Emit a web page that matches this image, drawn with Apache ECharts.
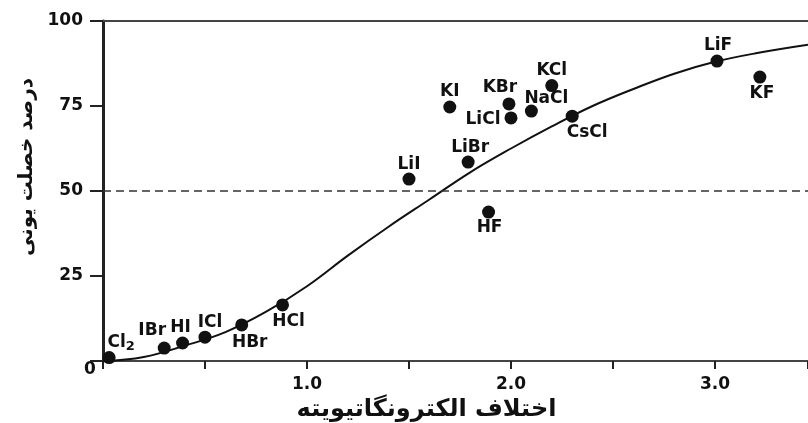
<!DOCTYPE html>
<html>
<head>
<meta charset="utf-8">
<script src="https://cdn.jsdelivr.net/npm/echarts@6/dist/echarts.min.js"></script>
<style>html,body{margin:0;padding:0;background:#fff}#c{width:808px;height:423px}</style>
</head>
<body>
<div id="c"></div>
<script>
// ---- data ----
var compoundNames = ['Cl2','IBr','HI','ICl','HBr','HCl','LiI','KI','LiBr','KBr','LiCl','NaCl','KCl','CsCl','HF','LiF','KF'];
var enDifference  = [0.03, 0.30, 0.39, 0.50, 0.68, 0.88, 1.50, 1.70, 1.79, 1.99, 2.00, 2.10, 2.20, 2.30, 1.89, 3.01, 3.22];
var ionicPercent  = [1.0, 3.8, 5.3, 7.0, 10.6, 16.5, 53.5, 74.7, 58.5, 75.6, 71.5, 73.5, 81.0, 72.0, 43.8, 88.2, 83.5];
var curveX = [0, 0.2, 0.4, 0.6, 0.8, 1.0, 1.2, 1.4, 1.6, 1.8, 2.0, 2.2, 2.4, 2.6, 2.8, 3.0, 3.2, 3.456];
var curveY = [0, 1.2, 4.5, 8.5, 14.5, 22, 31, 39.5, 47.5, 55.5, 62.5, 69, 75, 80, 84.5, 88, 90.5, 93];
var xTickLabels = {'1': '1.0', '2': '2.0', '3': '3.0'};
var yTickLabels = [25, 50, 75, 100];
var referenceLine = 50;
var xTitle = 'اختلاف الکترونگاتیویته';
var yTitle = 'درصد خصلت یونی';

// ---- label placement (style) ----
var labelOffsets = {
  Cl2:[12,-15], IBr:[-12,-18], HI:[-2,-15], ICl:[5,-15], HBr:[8,18], HCl:[6,17],
  LiI:[0,-15], KI:[0,-15], LiBr:[2,-15], KBr:[-9,-16], LiCl:[-28,2], NaCl:[15,-13],
  KCl:[0,-15], CsCl:[15,16], HF:[1,15], LiF:[1,-16], KF:[2,16]
};

var FONT = 'DejaVu Sans';
var pts = compoundNames.map(function (n, i) {
  return {
    name: n,
    value: [enDifference[i], ionicPercent[i]],
    label: { offset: labelOffsets[n] }
  };
});
var curve = curveX.map(function (x, i) { return [x, curveY[i]]; });

var chart = echarts.init(document.getElementById('c'));
chart.setOption({
  animation: false,
  grid: { left: 103, right: 0, top: 21, bottom: 62, containLabel: false, outerBoundsMode: 'none' },
  xAxis: [{
    type: 'value', min: 0, max: 3.456, interval: 0.5,
    axisLine: { show: true, lineStyle: { color: '#444', width: 2 } },
    axisTick: { show: true, length: 8, lineStyle: { color: '#222', width: 2 } },
    splitLine: { show: false },
    axisLabel: {
      margin: 15, color: '#111', fontFamily: FONT, fontWeight: 'bold', fontSize: 17,
      formatter: function (v) { return xTickLabels[String(v)] || ''; }
    },
    name: xTitle, nameLocation: 'middle', nameGap: 34,
    nameTextStyle: { fontFamily: FONT, fontWeight: 'bold', fontSize: 24, color: '#111', padding: [0, 58, 0, 0] }
  }, {
    type: 'value', position: 'top', min: 0, max: 3.456,
    axisLine: { show: true, lineStyle: { color: '#444', width: 2 } },
    axisTick: { show: false }, axisLabel: { show: false }, splitLine: { show: false }
  }],
  yAxis: {
    type: 'value', min: 0, max: 100, interval: 25,
    axisLine: { show: true, onZero: false, lineStyle: { color: '#222', width: 3 } },
    axisTick: { show: true, length: 13, lineStyle: { color: '#222', width: 2 } },
    splitLine: { show: false },
    axisLabel: {
      margin: 20, color: '#111', fontFamily: FONT, fontWeight: 'bold', fontSize: 17,
      formatter: function (v) { return yTickLabels.indexOf(v) >= 0 ? String(v) : ''; }
    },
    name: yTitle, nameLocation: 'middle', nameRotate: 90, nameGap: 66,
    nameTextStyle: { fontFamily: FONT, fontWeight: 'bold', fontSize: 20, color: '#111', padding: [0, 0, 0, 48] }
  },
  series: [{
    type: 'line', data: curve, smooth: 0.4, symbol: 'none', silent: true,
    lineStyle: { color: '#111', width: 2 },
    markLine: {
      silent: true, symbol: 'none', label: { show: false },
      lineStyle: { color: '#333', width: 1.5, type: [8, 5] },
      data: [{ yAxis: referenceLine }]
    }
  }, {
    type: 'scatter', data: pts, symbolSize: 13, clip: false,
    itemStyle: { color: '#111', opacity: 1 },
    label: {
      show: true, position: 'inside', color: '#111', fontFamily: FONT, fontWeight: 'bold', fontSize: 17,
      formatter: function (p) { return p.name === 'Cl2' ? 'Cl{s|2}' : p.name; },
      rich: { s: { fontFamily: FONT, fontWeight: 'bold', fontSize: 13, color: '#111', padding: [8, 0, 0, 0] } }
    }
  }]
});

var origin = chart.convertToPixel({ gridIndex: 0 }, [0, 0]);
chart.setOption({
  graphic: [{
    type: 'text', x: origin[0] - 13, y: origin[1] + 9,
    style: { text: '0', fontFamily: FONT, fontWeight: 'bold', fontSize: 17, fill: '#111', align: 'center', verticalAlign: 'middle' }
  }]
});
</script>
</body>
</html>
